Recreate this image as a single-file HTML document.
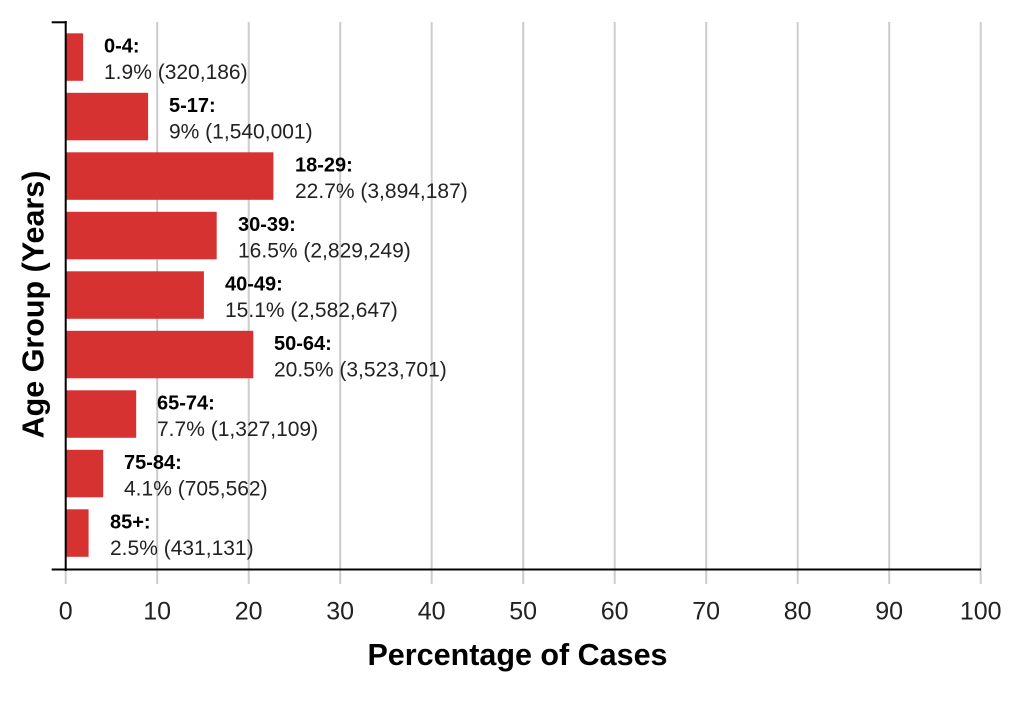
<!DOCTYPE html>
<html>
<head>
<meta charset="utf-8">
<style>
  html,body{margin:0;padding:0;background:#fff;}
  svg{display:block;}
  .lb{font-family:"Liberation Sans",Arial,sans-serif;font-weight:bold;font-size:20px;fill:#000;}
  .lv{font-family:"Liberation Sans",Arial,sans-serif;font-size:21px;fill:#222;}
  .tk{font-family:"Liberation Sans",Arial,sans-serif;font-size:25px;fill:#222;}
  .ti{font-family:"Liberation Sans",Arial,sans-serif;font-weight:bold;font-size:30.5px;fill:#000;}
</style>
</head>
<body>
<svg width="1023" height="713" viewBox="0 0 1023 713" xmlns="http://www.w3.org/2000/svg">
  <rect width="1023" height="713" fill="#fff"/>
  <!-- gridlines -->
  <g stroke="#cccccc" stroke-width="2">
    <line x1="65.7" y1="570" x2="65.7" y2="584"/>
    <line x1="157.2" y1="22" x2="157.2" y2="584"/>
    <line x1="248.7" y1="22" x2="248.7" y2="584"/>
    <line x1="340.2" y1="22" x2="340.2" y2="584"/>
    <line x1="431.7" y1="22" x2="431.7" y2="584"/>
    <line x1="523.2" y1="22" x2="523.2" y2="584"/>
    <line x1="614.7" y1="22" x2="614.7" y2="584"/>
    <line x1="706.2" y1="22" x2="706.2" y2="584"/>
    <line x1="797.7" y1="22" x2="797.7" y2="584"/>
    <line x1="889.2" y1="22" x2="889.2" y2="584"/>
    <line x1="980.7" y1="22" x2="980.7" y2="584"/>
  </g>
  <!-- bars -->
  <g fill="#d73232">
    <rect x="65.7" y="33.3" width="17.4" height="47.5"/>
    <rect x="65.7" y="92.8" width="82.4" height="47.5"/>
    <rect x="65.7" y="152.3" width="207.7" height="47.5"/>
    <rect x="65.7" y="211.8" width="151.0" height="47.5"/>
    <rect x="65.7" y="271.3" width="138.2" height="47.5"/>
    <rect x="65.7" y="330.8" width="187.6" height="47.5"/>
    <rect x="65.7" y="390.3" width="70.5" height="47.5"/>
    <rect x="65.7" y="449.8" width="37.5" height="47.5"/>
    <rect x="65.7" y="509.3" width="22.9" height="47.5"/>
  </g>
  <!-- labels -->
  <g>
    <text class="lb" x="104" y="52.6">0-4:</text>
    <text class="lv" x="104" y="78.8">1.9% (320,186)</text>
    <text class="lb" x="169" y="112.1">5-17:</text>
    <text class="lv" x="169" y="138.3">9% (1,540,001)</text>
    <text class="lb" x="295" y="171.6">18-29:</text>
    <text class="lv" x="295" y="197.8">22.7% (3,894,187)</text>
    <text class="lb" x="238" y="231.1">30-39:</text>
    <text class="lv" x="238" y="257.3">16.5% (2,829,249)</text>
    <text class="lb" x="225" y="290.6">40-49:</text>
    <text class="lv" x="225" y="316.8">15.1% (2,582,647)</text>
    <text class="lb" x="274" y="350.1">50-64:</text>
    <text class="lv" x="274" y="376.3">20.5% (3,523,701)</text>
    <text class="lb" x="157" y="409.6">65-74:</text>
    <text class="lv" x="157" y="435.8">7.7% (1,327,109)</text>
    <text class="lb" x="124" y="469.1">75-84:</text>
    <text class="lv" x="124" y="495.3">4.1% (705,562)</text>
    <text class="lb" x="110" y="528.6">85+:</text>
    <text class="lv" x="110" y="554.8">2.5% (431,131)</text>
  </g>
  <!-- axes -->
  <g stroke="#000" stroke-width="2" fill="none">
    <line x1="65.7" y1="21" x2="65.7" y2="571"/>
    <line x1="51.7" y1="22.3" x2="66.7" y2="22.3"/>
    <line x1="51.7" y1="569.5" x2="981" y2="569.5"/>
  </g>
  <!-- tick labels -->
  <g class="tk" text-anchor="middle">
    <text x="65.7" y="619.3">0</text>
    <text x="157.2" y="619.3">10</text>
    <text x="248.7" y="619.3">20</text>
    <text x="340.2" y="619.3">30</text>
    <text x="431.7" y="619.3">40</text>
    <text x="523.2" y="619.3">50</text>
    <text x="614.7" y="619.3">60</text>
    <text x="706.2" y="619.3">70</text>
    <text x="797.7" y="619.3">80</text>
    <text x="889.2" y="619.3">90</text>
    <text x="980.7" y="619.3">100</text>
  </g>
  <!-- axis titles -->
  <text class="ti" x="517.5" y="665" text-anchor="middle">Percentage of Cases</text>
  <text class="ti" transform="translate(43.5,304.5) rotate(-90)" text-anchor="middle">Age Group (Years)</text>
</svg>
</body>
</html>
